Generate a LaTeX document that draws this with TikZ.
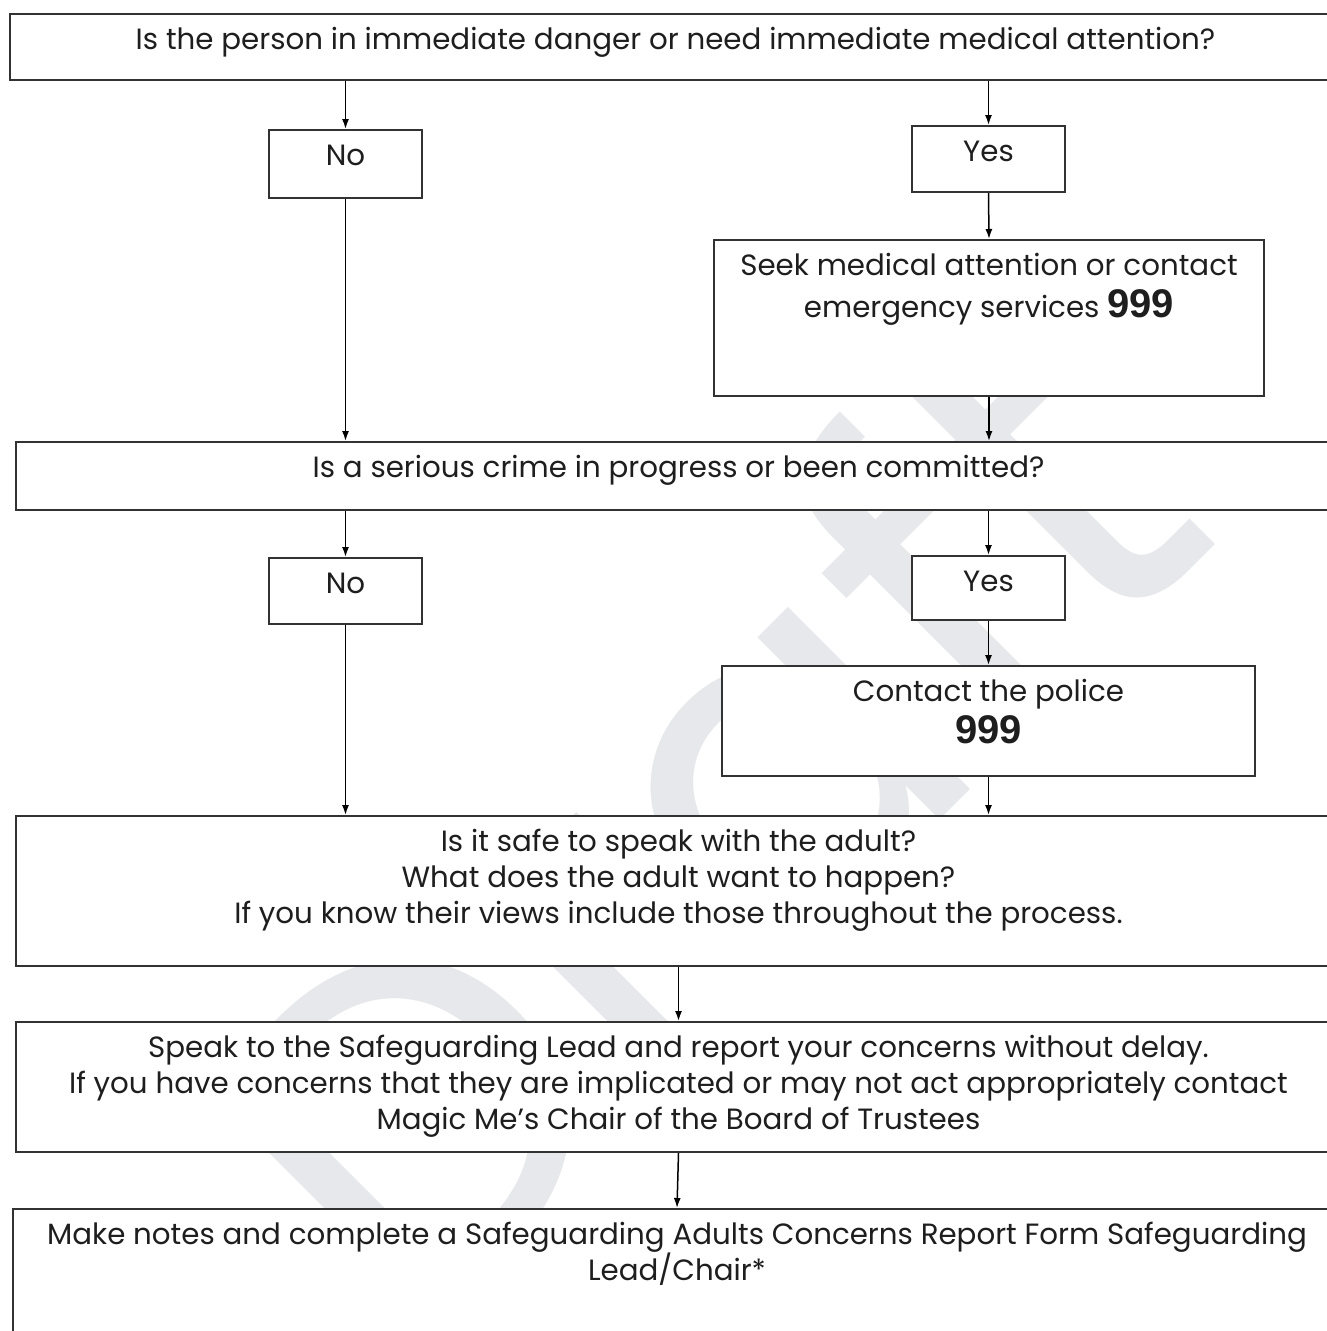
\documentclass[tikz,border=0pt]{standalone}
\usepackage{fontspec}
\setmainfont{Poppins}
\newfontfamily\numfont{Liberation Sans}
\usepackage{tikz}
\usetikzlibrary{arrows.meta,positioning}

\definecolor{wmgray}{RGB}{231,232,236}
\definecolor{boxline}{RGB}{50,50,50}
\definecolor{txtcol}{RGB}{30,30,30}

% text sits at the top of each box
\newcommand{\toptext}[3]{\parbox[t][#2][t]{#1}{\centering\rule{0pt}{35pt}#3}}
\newcommand{\nines}{{\numfont\bfseries\fontsize{40}{40}\selectfont 999}}

\begin{document}
\begin{tikzpicture}[x=1pt,y=-1pt,
    box/.style={draw=boxline, line width=2pt, fill=white, inner sep=0pt,
                anchor=north west, text=txtcol, font=\fontsize{29.3}{36}\selectfont},
    arr/.style={line width=1.5pt, -{Latex[length=10pt,width=7pt]}},
    watermark/.style={text=wmgray, font=\fontsize{470}{470}\selectfont}]
  \useasboundingbox (0,0) rectangle (1327,1331);

  \node[watermark, rotate=45, anchor=base west] (wm) at (410,1350) {Draft}; % faint

  % first question
  \node[box] (q1) at (9,13) {\toptext{1331pt}{66pt}{Is the person in immediate danger or need immediate medical attention?}};
  \node[box] (no1) at (268,129) {\toptext{153pt}{68pt}{No}};
  \node[box] (yes1) at (911,125) {\toptext{153pt}{66pt}{Yes}};
  \node[box] (seek) at (713,239) {\toptext{550pt}{156pt}{Seek medical attention or contact\\[6pt] emergency services \nines}};

  % second question
  \node[box] (q2) at (15,441) {\toptext{1325pt}{68pt}{Is a serious crime in progress or been committed?}};
  \node[box] (no2) at (268,557) {\toptext{153pt}{66pt}{No}};
  \node[box] (yes2) at (911,555) {\toptext{153pt}{64pt}{Yes}};
  \node[box] (police) at (721,665) {\toptext{533pt}{110pt}{Contact the police\\[6pt] \nines}};

  % after both
  \node[box] (q3) at (15,815) {\toptext{1325pt}{150pt}{Is it safe to speak with the adult?\\ What does the adult want to happen?\\ If you know their views include those throughout the process.}};
  \node[box] (q4) at (15,1021) {\toptext{1325pt}{130pt}{Speak to the Safeguarding Lead and report your concerns without delay.\\ If you have concerns that they are implicated or may not act appropriately contact\\ Magic Me’s Chair of the Board of Trustees}};
  \node[box] (q5) at (12,1208) {\toptext{1328pt}{150pt}{Make notes and complete a Safeguarding Adults Concerns Report Form Safeguarding\\ Lead/Chair*}};

  % arrows
  \draw[arr] (q1.south -| no1.north) -- (no1.north);
  \draw[arr] (q1.south -| yes1.north) -- (yes1.north);
  \draw[arr] (yes1.south) -- (seek.north);
  \draw[arr] (no1.south) -- (no1.south |- q2.north);
  \draw[arr] (seek.south) -- (seek.south |- q2.north);
  \draw[arr] (q2.south -| no2.north) -- (no2.north);
  \draw[arr] (q2.south -| yes2.north) -- (yes2.north);
  \draw[arr] (yes2.south) -- (police.north);
  \draw[arr] (no2.south) -- (no2.south |- q3.north);
  \draw[arr] (police.south) -- (police.south |- q3.north);
  \draw[arr] (q3.south) -- (q4.north);
  \draw[arr] (q4.south) -- (q5.north);
\end{tikzpicture}
\end{document}
